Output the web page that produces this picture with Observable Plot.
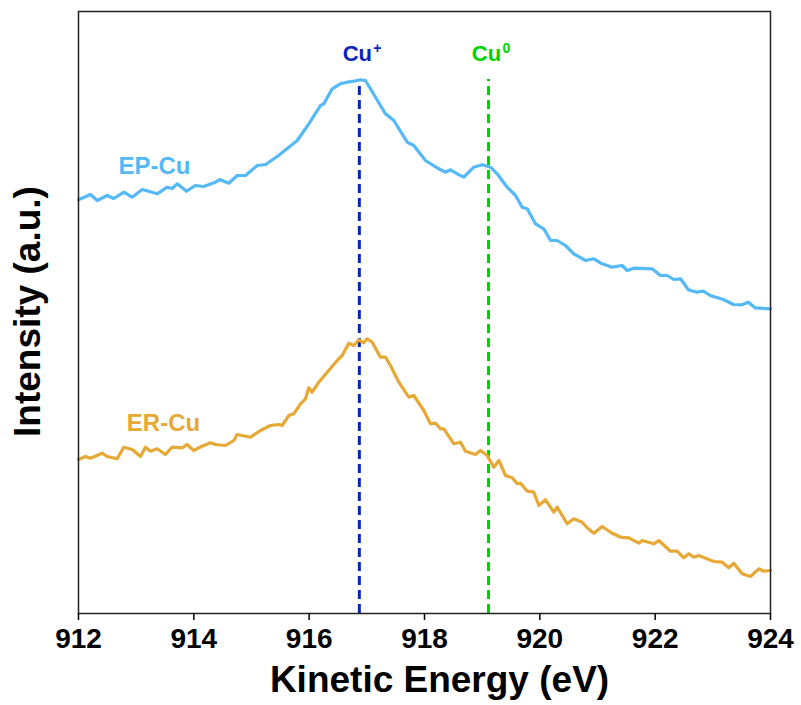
<!DOCTYPE html>
<html>
<head>
<meta charset="utf-8">
<script src="https://cdn.jsdelivr.net/npm/d3@7"></script>
<script src="https://cdn.jsdelivr.net/npm/@observablehq/plot@0.6"></script>
<style>
  html, body { margin: 0; padding: 0; background: #fff; }
  #chart svg { display: block; }
</style>
</head>
<body>
<div id="chart"></div>
<script>
// Kinetic energy (eV) and intensity (a.u., arbitrary offset)
const epEnergy = [912.0,912.208,912.324,912.498,912.612,912.786,912.931,913.105,913.365,913.538,913.625,913.711,913.873,914.029,914.168,914.376,914.45,914.606,914.752,914.896,915.099,915.243,915.446,915.647,915.793,915.994,916.197,916.254,916.399,916.543,916.659,916.774,916.89,916.977,917.15,917.324,917.468,917.7,917.814,918.017,918.248,918.364,918.451,918.567,918.681,918.855,919.0,919.144,919.26,919.434,919.578,919.694,919.781,919.925,920.069,920.185,920.301,920.445,920.589,920.792,920.936,921.081,921.255,921.428,921.514,921.629,921.948,922.092,922.208,922.323,922.439,922.576,922.722,922.837,922.952,923.183,923.356,923.501,923.616,923.732,924.0];
const epIntensity = [413.7,419,413,418,415,421.3,416.3,424,419.7,426.3,425,429.7,422.3,428,427,431.3,434,430.3,438,438,448,449,457,466.3,473,489.7,508,509.7,524.7,529.7,531.3,532.3,533.7,533,516.3,499.7,493,471.3,468,453,444.7,441.3,443.7,439.7,436.3,446.3,448.7,446.3,439.7,426.3,418,406.3,404.7,389.7,384.7,373,373,368,359.7,353,354.7,349.7,346.3,348,343,345.3,344.7,338,338,334,334.7,323.7,321.3,322.3,318,314,309,308.7,311.3,305.7,304.7];

const erEnergy = [912.0,912.121,912.208,912.411,912.497,912.671,912.785,912.931,913.075,913.161,913.248,913.364,913.508,913.624,913.798,913.884,913.999,914.144,914.289,914.376,914.549,914.693,914.752,914.983,915.156,915.329,915.473,915.532,915.647,915.733,915.85,915.936,915.994,916.052,916.167,916.313,916.486,916.573,916.687,916.774,916.861,916.947,917.006,917.093,917.237,917.324,917.41,917.554,917.728,917.814,917.988,918.104,918.191,918.277,918.335,918.509,918.624,918.711,918.884,918.971,919.087,919.202,919.289,919.405,919.521,919.608,919.665,919.781,919.896,919.983,920.099,920.243,920.301,920.474,920.589,920.734,920.821,920.936,921.081,921.225,921.399,921.543,921.717,921.775,921.977,922.063,922.266,922.382,922.497,922.584,922.67,922.757,923.017,923.162,923.277,923.364,923.509,923.653,923.797,923.884,924.0];
const erIntensity = [154,157,155.3,160.3,157,154.7,166.3,164,157,166.3,162.3,164.7,159,166.3,165.7,169,163,167.3,170.7,169,168,173,179,176.3,183,188,189,188,198,199.7,209.7,214.7,225.7,221.3,231.3,241.3,253,258,270.3,268,273.7,270.7,274.7,271.3,256.3,256.3,248,231.3,216.3,218,203,189.7,190.3,184.7,184.7,169.7,171.3,162.3,159,163,158,146.3,153,138,135.7,129.7,130.3,122.3,121.3,108,113.7,101.3,106.3,89.7,94.7,91.3,85.7,80.3,87,81.3,76.3,75.7,70.3,73,69.7,73,62.3,62.3,55.7,59.7,56.3,58,52,51.3,45.7,50.3,39.7,37,44.7,42.3,43];

const xTicks = [912, 914, 916, 918, 920, 922, 924];
const seriesNames = ["EP-Cu", "ER-Cu"];
const seriesColors = ["#55B9F7", "#E6A935"];
const seriesLabelPos = [[913.318, 447.5], [913.474, 190]];
const refEnergies = [916.87, 919.11];
const refNames = ["Cu", "Cu"];
const refSups = ["+", "0"];
const refColors = ["#0A24B8", "#00D400"];
const refTop = 534;

const ep = epEnergy.map((e, i) => ({energy: e, intensity: epIntensity[i]}));
const er = erEnergy.map((e, i) => ({energy: e, intensity: erIntensity[i]}));
const refs = refEnergies.map((e, i) => ({energy: e, name: refNames[i], sup: refSups[i], color: refColors[i]}));
const seriesLabels = seriesNames.map((n, i) => ({name: n, energy: seriesLabelPos[i][0], intensity: seriesLabelPos[i][1], color: seriesColors[i]}));

const font = "'Liberation Sans', Arial, sans-serif";

const chart = Plot.plot({
  width: 801,
  height: 705,
  marginLeft: 78,
  marginRight: 31,
  marginTop: 11,
  marginBottom: 92,
  style: {fontFamily: font, fontWeight: "bold", color: "#000", background: "#fff"},
  x: {domain: [912, 924]},
  y: {domain: [0, 602], axis: null},
  marks: [
    Plot.ruleX(refs, {x: "energy", y1: 0, y2: refTop, stroke: "color", strokeWidth: 3, strokeDasharray: "9,5"}),
    Plot.line(ep, {x: "energy", y: "intensity", stroke: seriesColors[0], strokeWidth: 3.2, curve: "linear"}),
    Plot.line(er, {x: "energy", y: "intensity", stroke: seriesColors[1], strokeWidth: 3.2, curve: "linear"}),
    Plot.text(seriesLabels, {x: "energy", y: "intensity", text: "name", fill: "color", fontSize: 24, fontWeight: "bold"}),
    Plot.text(refs, {x: "energy", y: 559.5, text: "name", fill: "color", fontSize: 22, fontWeight: "bold", dx: -2}),
    Plot.text(refs, {x: "energy", y: 559.5, text: "sup", fill: "color", fontSize: 14, fontWeight: "bold", textAnchor: "start", dx: 14, dy: -5}),
    Plot.frame({stroke: "#222", strokeWidth: 1.5}),
    Plot.axisX({ticks: xTicks, tickSize: 7, tickPadding: 8, tickFormat: d => String(d), fontSize: 28, fontWeight: "bold", label: null, strokeWidth: 1.5}),
    Plot.text(["Kinetic Energy (eV)"], {frameAnchor: "bottom", textAnchor: "middle", lineAnchor: "middle", dy: 67, dx: 15, fontSize: 37, fontWeight: "bold", fill: "#000"}),
    Plot.text(["Intensity (a.u.)"], {frameAnchor: "left", textAnchor: "middle", lineAnchor: "middle", rotate: -90, dx: -50, dy: -1, fontSize: 37, fontWeight: "bold", fill: "#000"})
  ]
});
document.getElementById("chart").appendChild(chart);
</script>
</body>
</html>
